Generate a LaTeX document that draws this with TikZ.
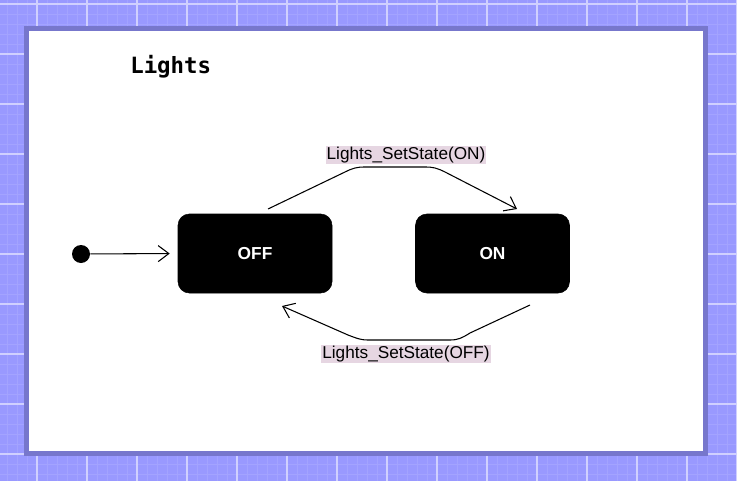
\documentclass[tikz,border=0pt]{standalone}
\usepackage{fontspec}
\setmainfont{Liberation Sans}
\newfontfamily\monob{DejaVu Sans Mono}
\usetikzlibrary{arrows.meta}
\definecolor{bgblue}{HTML}{9999FF}
\definecolor{minorline}{HTML}{A3A3FF}
\definecolor{majorline}{HTML}{D0D0FF}
\definecolor{frameblue}{HTML}{7777CC}
\definecolor{labelbg}{HTML}{E6D6E2}
\tikzset{
  statebox/.style={fill=black, draw=black, rounded corners=8.5pt, minimum width=115.5pt, minimum height=59.25pt, inner sep=0, text=white, font=\fontsize{13pt}{15pt}\selectfont\bfseries},
  trans/.style={draw=black, line width=0.8pt, -{Straight Barb[length=8pt,width=12pt]}},
  tlabel/.style={fill=labelbg, inner sep=0.8pt, font=\fontsize{12.9pt}{15pt}\selectfont},
}
\begin{document}
\begin{tikzpicture}[x=0.75pt, y=-0.75pt]
\useasboundingbox (0,0) rectangle (737,481);
% background with grid
\fill[bgblue] (0,0) rectangle (737,481);
\foreach \x in {7,17,...,737} \draw[minorline, line width=0.5pt] (\x,0) -- (\x,481);
\foreach \y in {4,14,...,481} \draw[minorline, line width=0.5pt] (0,\y) -- (737,\y);
\foreach \x in {37,87,...,737} \draw[majorline, line width=0.8pt] (\x,0) -- (\x,481);
\foreach \y in {4,54,...,481} \draw[majorline, line width=0.8pt] (0,\y) -- (737,\y);
% frame
\fill[frameblue] (24,26) rectangle (708,456);
\fill[white] (29,31) rectangle (703,451);
% title
\node[anchor=base west, inner sep=0, font=\monob\fontsize{16.8pt}{19pt}\selectfont\bfseries] (title) at (130,74) {Lights};
% initial
\node[circle, fill=black, minimum size=13.5pt, inner sep=0] (init) at (81,254) {};
% states
\node[statebox] (off) at (255,253.5) {OFF};
\node[statebox] (on) at (492.5,253.5) {ON};
\coordinate (a1) at (268,209);
\coordinate (a2) at (517,209);
\coordinate (b1) at (530,305);
\coordinate (b2) at (282,306);
\draw[trans, shorten >=6pt] (init) -- (off.west);
\draw[trans] (a1) -- (345,172) .. controls (353,168) and (357,167) .. (365,167) -- (425,167) .. controls (433,167) and (437,168) .. (445,172) -- (a2);
\draw[trans] (b1) -- (470,333) .. controls (462,338) and (458,340) .. (450,340) -- (368,340) .. controls (360,340) and (356,338) .. (348,335) -- (b2);
% labels
\node[tlabel] (lon) at (406,155) {Lights\_SetState(ON)};
\node[tlabel] (loff) at (406,354) {Lights\_SetState(OFF)};
\end{tikzpicture}
\end{document}
